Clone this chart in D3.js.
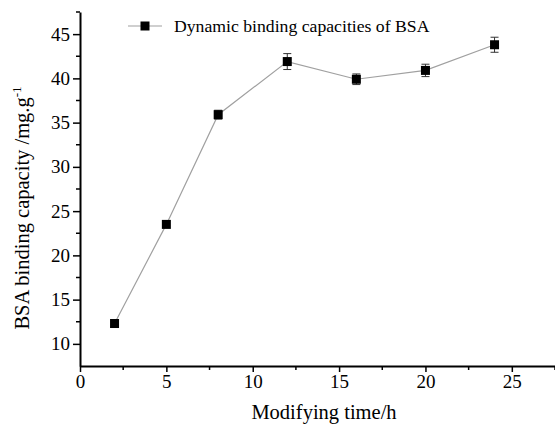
<!DOCTYPE html>
<html>
<head>
<meta charset="utf-8">
<script src="https://cdn.jsdelivr.net/npm/d3@7"></script>
<style>
  body { margin: 0; background: #fff; }
  svg text { font-family: "Liberation Serif", "Times New Roman", serif; fill: #000; }
</style>
</head>
<body>
<div id="content"></div>
<script>
const w = 555
const h = 425

// data
const times = [2, 5, 8, 12, 16, 20, 24]
const capacity = [12.3, 23.5, 35.9, 41.9, 39.9, 40.9, 43.8]
const errors = [0, 0, 0.5, 0.9, 0.6, 0.7, 0.85]
const xTicks = [0, 5, 10, 15, 20, 25]
const yTicks = [10, 15, 20, 25, 30, 35, 40, 45]
const legendLabel = "Dynamic binding capacities of BSA"

let dataset = times.map((t, i) => ({ t: t, v: capacity[i], e: errors[i] }))

const margin = { left: 80, top: 12, bottom: 366 }

let svg = d3.select("#content")
  .append("svg")
  .attr("width", w)
  .attr("height", h)

let x = d3.scaleLinear()
  .domain([0, 27.5])
  .range([margin.left, w])

let y = d3.scaleLinear()
  .domain([7.5, 47.5])
  .range([margin.bottom, margin.top])

// minor ticks
let xMinor = d3.range(2.5, 27.6, 5)
let yMinor = d3.range(12.5, 47.6, 5)

let gx = svg.append("g")
  .attr("transform", "translate(0," + margin.bottom + ")")
gx.call(d3.axisBottom(x).tickValues(xTicks).tickSize(6).tickPadding(3).tickSizeOuter(0))
gx.append("g").selectAll("line").data(xMinor).enter().append("line")
  .attr("x1", d => x(d)).attr("x2", d => x(d))
  .attr("y1", 0).attr("y2", 4)
  .attr("stroke", "#000").attr("stroke-width", 1.5)

let gy = svg.append("g")
  .attr("transform", "translate(" + margin.left + ",0)")
gy.call(d3.axisLeft(y).tickValues(yTicks).tickSize(7).tickPadding(3).tickSizeOuter(0))
gy.append("g").selectAll("line").data(yMinor).enter().append("line")
  .attr("x1", 0).attr("x2", -4)
  .attr("y1", d => y(d)).attr("y2", d => y(d))
  .attr("stroke", "#000").attr("stroke-width", 1.5)

svg.selectAll(".domain").attr("stroke", "#000").attr("stroke-width", 2)
svg.selectAll(".tick line").attr("stroke", "#000").attr("stroke-width", 1.5)
gx.attr("font-family", "Liberation Serif").attr("font-size", 19)
gy.attr("font-family", "Liberation Serif").attr("font-size", 19)

// line
svg.append("path")
  .datum(dataset)
  .attr("fill", "none")
  .attr("stroke", "#a0a0a0")
  .attr("stroke-width", 1.2)
  .attr("d", d3.line().x(d => x(d.t)).y(d => y(d.v)))

// error bars
let eb = svg.append("g").selectAll("g").data(dataset.filter(d => d.e > 0)).enter().append("g")
eb.append("line")
  .attr("x1", d => x(d.t)).attr("x2", d => x(d.t))
  .attr("y1", d => y(d.v + d.e)).attr("y2", d => y(d.v - d.e))
  .attr("stroke", "#333").attr("stroke-width", 1)
eb.append("line")
  .attr("x1", d => x(d.t) - 4).attr("x2", d => x(d.t) + 4)
  .attr("y1", d => y(d.v + d.e)).attr("y2", d => y(d.v + d.e))
  .attr("stroke", "#333").attr("stroke-width", 1)
eb.append("line")
  .attr("x1", d => x(d.t) - 4).attr("x2", d => x(d.t) + 4)
  .attr("y1", d => y(d.v - d.e)).attr("y2", d => y(d.v - d.e))
  .attr("stroke", "#333").attr("stroke-width", 1)

// markers
const ms = 9
svg.append("g").selectAll("rect").data(dataset).enter().append("rect")
  .attr("x", d => x(d.t) - ms / 2)
  .attr("y", d => y(d.v) - ms / 2)
  .attr("width", ms)
  .attr("height", ms)
  .attr("fill", "#000")

// legend
let lg = svg.append("g").attr("transform", "translate(128,26)")
lg.append("line").attr("x1", 0).attr("x2", 34).attr("y1", 0).attr("y2", 0)
  .attr("stroke", "#a0a0a0").attr("stroke-width", 1.2)
lg.append("rect").attr("x", 17 - 4.5).attr("y", -4.5).attr("width", 9).attr("height", 9).attr("fill", "#000")
lg.append("text").attr("x", 46).attr("y", 6)
  .style("font-size", "17.7px")
  .text(legendLabel)

// axis titles
svg.append("text")
  .attr("x", 324).attr("y", 419)
  .attr("text-anchor", "middle")
  .style("font-size", "20.5px")
  .text("Modifying time/h")

let yl = svg.append("text")
  .attr("transform", "translate(29,208) rotate(-90)")
  .attr("text-anchor", "middle")
  .style("font-size", "20.5px")
yl.append("tspan").text("BSA binding capacity /mg.g")
yl.append("tspan").attr("dy", -8).style("font-size", "13px").text("-1")
</script>
</body>
</html>
